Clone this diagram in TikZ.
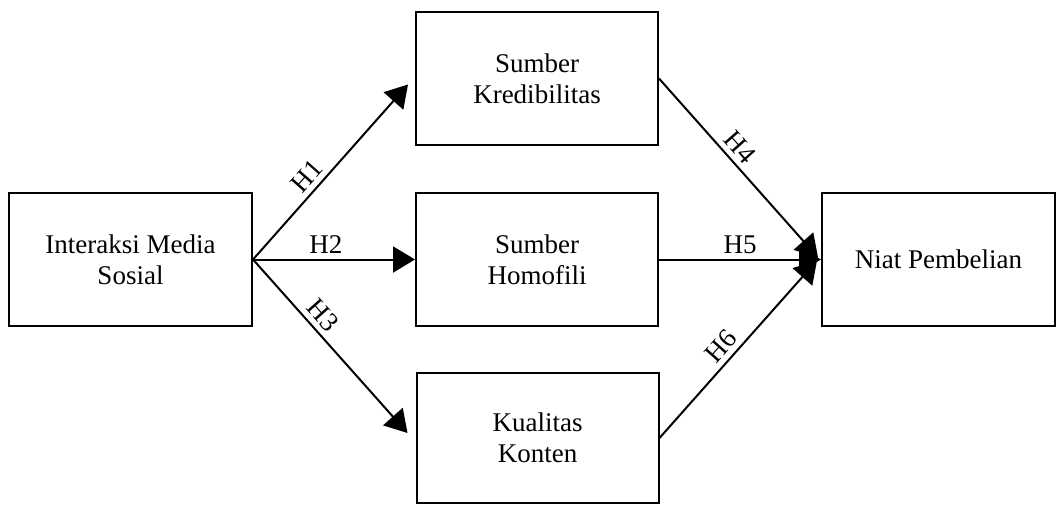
\documentclass[tikz,border=0pt]{standalone}
\usepackage{fontspec}
\setmainfont{Liberation Serif}
\usetikzlibrary{arrows.meta}
\begin{document}
\begin{tikzpicture}[x=1pt,y=1pt,
  box/.style={draw=black, line width=2pt, rectangle, align=center, inner sep=0pt,
    font=\fontsize{27}{31}\selectfont},
  arr/.style={draw=black, line width=2pt, -{Triangle[length=22pt,width=26pt]}},
  lab/.style={font=\fontsize{27}{31}\selectfont, sloped, above=2pt, inner sep=3pt}]
\useasboundingbox (0,0) rectangle (1059,-505);
\node[box, minimum width=243pt, minimum height=133pt] (l) at (130.5,-259.5) {Interaksi Media\\Sosial};
\node[box, minimum width=242pt, minimum height=133pt] (t) at (537,-78.5) {Sumber\\Kredibilitas};
\node[box, minimum width=242pt, minimum height=133pt] (m) at (537,-259.5) {Sumber\\Homofili};
\node[box, minimum width=242pt, minimum height=130pt] (b) at (537.5,-438) {Kualitas\\Konten};
\node[box, minimum width=233pt, minimum height=133pt] (r) at (938.5,-259.5) {Niat Pembelian};
\draw[arr] (l.east) -- node[lab, pos=0.42] {H1} ([xshift=-7pt,yshift=-6pt]t.west);
\draw[arr] (l.east) -- node[lab, pos=0.45, above=0pt] {H2} (m.west);
\draw[arr] (l.east) -- node[lab, pos=0.38] {H3} ([xshift=-8pt,yshift=5pt]b.west);
\draw[arr] (t.east) -- node[lab, pos=0.44] {H4} ([xshift=-3pt,yshift=2pt]r.west);
\draw[arr] (m.east) -- node[lab, pos=0.5, above=0pt] {H5} (r.west);
\draw[arr] (b.east) -- node[lab, pos=0.46] {H6} ([xshift=-4pt,yshift=-1pt]r.west);
\end{tikzpicture}
\end{document}
